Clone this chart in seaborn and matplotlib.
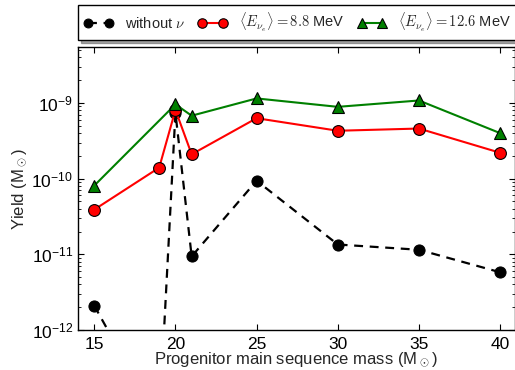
import matplotlib
matplotlib.use("Agg")
import matplotlib.pyplot as plt
import seaborn as sns
import numpy as np
import pandas as pd
from matplotlib.ticker import LogLocator, NullFormatter, FixedLocator

# Progenitor masses (M_sun)
masses = [15, 19, 20, 21, 25, 30, 35, 40]

# Yields (M_sun)
yield_no_nu = [2.1e-12, 6.0e-14, 7.4e-10, 9.4e-12, 9.4e-11, 1.35e-11, 1.15e-11, 5.8e-12]
yield_e88 = [3.9e-11, 1.4e-10, 8.1e-10, 2.1e-10, 6.3e-10, 4.3e-10, 4.6e-10, 2.2e-10]
masses_e126 = [15, 20, 21, 25, 30, 35, 40]
yield_e126 = [8.1e-11, 9.6e-10, 6.8e-10, 1.15e-9, 8.9e-10, 1.08e-9, 4.0e-10]

x_ticks = [15, 20, 25, 30, 35, 40]
y_ticks = [1e-12, 1e-11, 1e-10, 1e-9]

labels = [r"without $\nu$",
          r"$\langle E_{\nu_e}\rangle = 8.8$ MeV",
          r"$\langle E_{\nu_e}\rangle = 12.6$ MeV"]

sns.set_theme(style="ticks")
plt.rcParams["font.family"] = ["Liberation Sans", "DejaVu Sans"]
plt.rcParams["mathtext.fontset"] = "cm"

fig = plt.figure(figsize=(5.15, 3.70), dpi=100)
ax = fig.add_axes([0.1515, 0.108, 0.848, 0.765])

sns.lineplot(x=masses, y=yield_no_nu, ax=ax, sort=False, estimator=None,
             color="black", linestyle=(0, (4, 3)), linewidth=1.6,
             marker="o", markersize=8, markerfacecolor="black",
             markeredgecolor="black", label=labels[0])
sns.lineplot(x=masses, y=yield_e88, ax=ax, sort=False, estimator=None,
             color="red", linewidth=1.5,
             marker="o", markersize=8.5, markerfacecolor="red",
             markeredgecolor="black", markeredgewidth=0.8, label=labels[1])
sns.lineplot(x=masses_e126, y=yield_e126, ax=ax, sort=False, estimator=None,
             color="green", linewidth=1.5,
             marker="^", markersize=8.5, markerfacecolor="green",
             markeredgecolor="black", markeredgewidth=0.8, label=labels[2])

ax.set_yscale("log")
ax.set_xlim(14, 40.9)
ax.set_ylim(1e-12, 5.5e-9)
ax.set_xticks(x_ticks)
ax.yaxis.set_major_locator(FixedLocator(y_ticks))
ax.yaxis.set_minor_locator(LogLocator(base=10, subs=np.arange(2, 10), numticks=20))
ax.yaxis.set_minor_formatter(NullFormatter())

for side in ["top", "right", "left", "bottom"]:
    ax.spines[side].set_visible(True)
    ax.spines[side].set_color("black")
    ax.spines[side].set_linewidth(1.0)

ax.tick_params(which="both", direction="in", top=True, right=True,
               labelsize=12.5, colors="black")
ax.tick_params(which="major", length=4, width=0.8)
ax.tick_params(which="minor", length=2, width=0.6)
ax.tick_params(axis="x", pad=5)

ax.set_xlabel(r"Progenitor main sequence mass (M$_\odot$)", fontsize=12, labelpad=-1)
ax.set_ylabel(r"Yield (M$_\odot$)", fontsize=12, labelpad=2)

leg = ax.legend(loc="lower left", bbox_to_anchor=(0.0, 1.025), ncol=3,
                fontsize=10.5, numpoints=2, handlelength=2.0, markerscale=0.8,
                handletextpad=0.8, columnspacing=0.9, borderpad=0.4,
                borderaxespad=0.0,
                frameon=True, fancybox=False, shadow=True)
leg.get_frame().set_edgecolor("black")
leg.get_frame().set_linewidth(1.0)

fig.savefig("out.png", dpi=100)
